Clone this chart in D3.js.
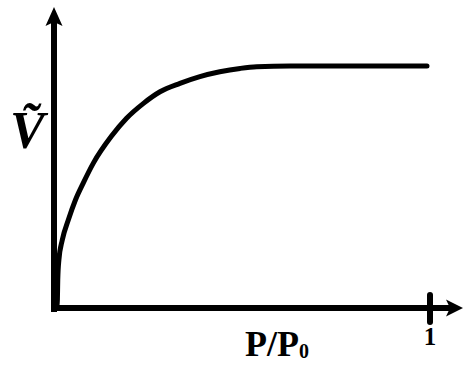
<!DOCTYPE html>
<html>
<head>
<meta charset="utf-8">
<script src="https://cdn.jsdelivr.net/npm/d3@7/dist/d3.min.js"></script>
<style>
  html, body { margin: 0; padding: 0; background: #fff; }
  svg { display: block; }
  text { font-family: "Liberation Serif", "DejaVu Serif", serif; fill: #000; }
</style>
</head>
<body>
<svg id="chart" width="466" height="369"></svg>
<script>
// Adsorption isotherm: relative pressure P/P0 vs adsorbed volume (normalised to the plateau)
const pressureRatio  = [0.008, 0.009, 0.010, 0.013, 0.022, 0.038, 0.057, 0.078, 0.105, 0.152, 0.193, 0.238, 0.282, 0.335, 0.388, 0.441, 0.495, 0.539, 0.628, 0.992];
const adsorbedVolume = [0.008, 0.029, 0.112, 0.195, 0.278, 0.361, 0.444, 0.515, 0.598, 0.707, 0.783, 0.845, 0.893, 0.928, 0.956, 0.976, 0.990, 0.997, 1.000, 1.000];
const xTickValues = [1];
const xTickLabels = ["1"];

const svg = d3.select("#chart");

const x = d3.scaleLinear().domain([0, 1]).range([54, 430]);
const y = d3.scaleLinear().domain([0, 1]).range([307, 66]);

const axisW = 6;
const x0 = x(0), y0 = y(0) + 1;
const xEnd = 463, yTop = 7;

// axes lines
svg.append("line")
  .attr("x1", x0).attr("x2", x0)
  .attr("y1", y0 + 4).attr("y2", yTop + 14)
  .attr("stroke", "#000").attr("stroke-width", axisW);
svg.append("line")
  .attr("x1", x0 - 3).attr("x2", xEnd - 12)
  .attr("y1", y0).attr("y2", y0)
  .attr("stroke", "#000").attr("stroke-width", axisW);

// arrowheads
svg.append("path")
  .attr("d", `M${x0},${yTop} L${x0 + 8.5},${yTop + 19} L${x0},${yTop + 15} L${x0 - 8.5},${yTop + 19} Z`)
  .attr("fill", "#000");
svg.append("path")
  .attr("d", `M${xEnd},${y0} L${xEnd - 17},${y0 - 8.5} L${xEnd - 13},${y0} L${xEnd - 17},${y0 + 8.5} Z`)
  .attr("fill", "#000");

// tick mark and label at P/P0 = 1
const ticks = svg.append("g");
ticks.selectAll("line").data(xTickValues).join("line")
  .attr("x1", d => x(d)).attr("x2", d => x(d))
  .attr("y1", y0 - 13).attr("y2", y0 + 14)
  .attr("stroke", "#000").attr("stroke-width", 6).attr("stroke-linecap", "round");
ticks.selectAll("text").data(xTickValues).join("text")
  .attr("x", d => x(d)).attr("y", 345)
  .attr("text-anchor", "middle")
  .attr("font-size", 25)
  .attr("font-weight", "bold")
  .text((d, i) => xTickLabels[i]);

// isotherm curve
const pts = pressureRatio.map((p, i) => [p, adsorbedVolume[i]]);
const line = d3.line().x(d => x(d[0])).y(d => y(d[1])).curve(d3.curveMonotoneX);
svg.append("path")
  .attr("d", line(pts))
  .attr("fill", "none")
  .attr("stroke", "#000")
  .attr("stroke-width", 5)
  .attr("stroke-linecap", "round");

// x-axis title: P/P0
const xt = svg.append("text")
  .attr("x", 245).attr("y", 356)
  .attr("font-size", 36)
  .attr("font-weight", "bold");
xt.append("tspan").text("P/P");
xt.append("tspan").attr("font-size", 20).attr("dy", 2).text("0");

// y-axis title: V with combining tilde
svg.append("text")
  .attr("x", 10).attr("y", 148)
  .attr("font-size", 52)
  .attr("font-weight", "bold")
  .attr("font-style", "italic")
  .text("V\u0303");
</script>
</body>
</html>
